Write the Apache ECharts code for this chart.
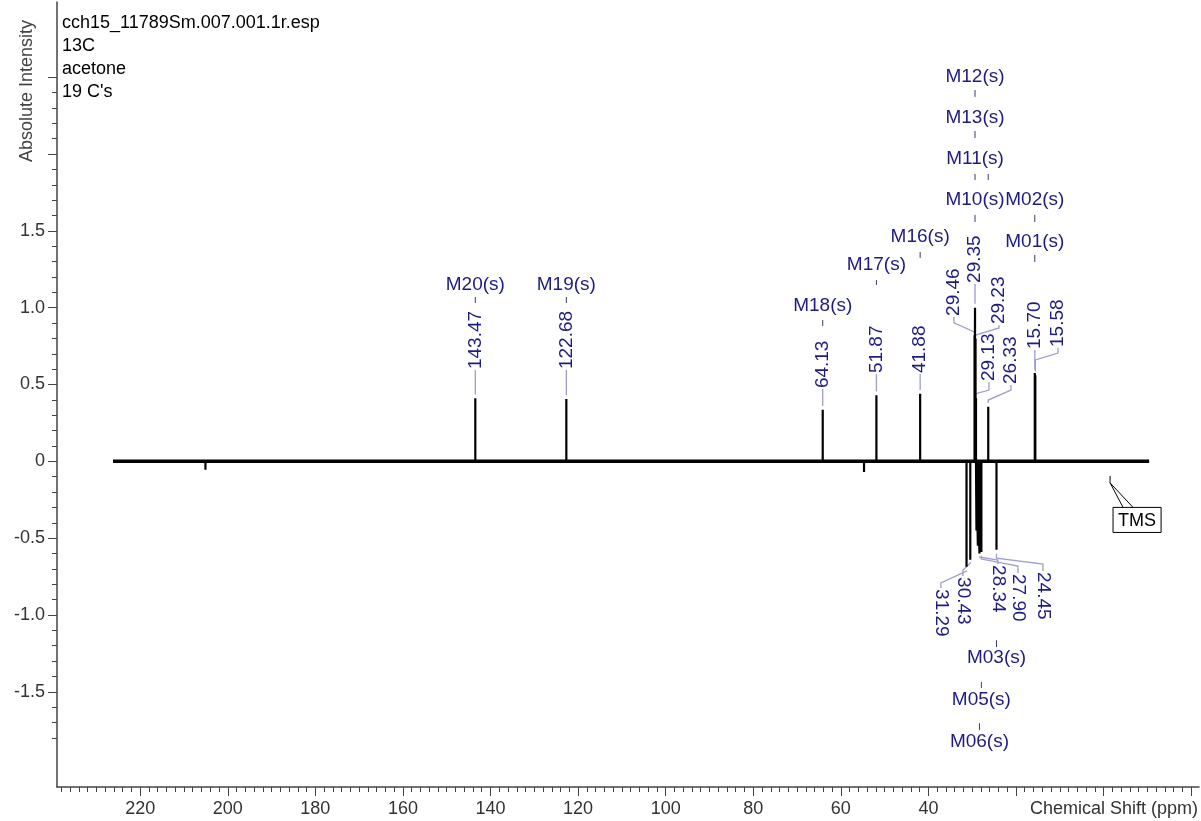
<!DOCTYPE html>
<html>
<head>
<meta charset="utf-8">
<title>13C spectrum</title>
<script src="https://cdn.jsdelivr.net/npm/echarts@6/dist/echarts.min.js"></script>
<style>
  html, body { margin: 0; padding: 0; background: #fff; }
  #spectrum { width: 1201px; height: 821px; }
</style>
</head>
<body>
<div id="spectrum"></div>
<script>
// 谱图信息
var fileInfo = ['cch15_11789Sm.007.001.1r.esp', '13C', 'acetone', "19 C's"];

// 基线范围 (ppm)
var baselineRange = [226.2, -10.4];

// 峰位 (ppm) 与强度, 按 ppm 从大到小
var peakShift  = [205.1, 143.47, 122.68, 64.13, 54.7, 51.87, 41.88, 31.29, 30.43, 29.46, 29.35, 29.23, 29.13, 29.02, 28.70, 28.34, 28.10, 27.90, 26.33, 24.45, 15.70, 15.58];
var peakHeight = [-0.055, 0.41, 0.405, 0.335, -0.07, 0.43, 0.44, -0.686, -0.64, 0.82, 1.0, 0.80, 0.41, -0.45, -0.55, -0.60, -0.50, -0.59, 0.355, -0.576, 0.575, 0.56];

// 标注的峰
var labelShift = [143.47, 122.68, 64.13, 51.87, 41.88, 29.46, 29.35, 29.23, 29.13, 26.33, 15.70, 15.58,
                  31.29, 30.43, 28.34, 27.90, 24.45];

// 多重峰名称
var multipletName  = ['M20(s)', 'M19(s)', 'M18(s)', 'M17(s)', 'M16(s)', 'M12(s)', 'M13(s)', 'M11(s)', 'M10(s)', 'M02(s)', 'M01(s)', 'M03(s)', 'M05(s)', 'M06(s)'];
var multipletShift = [143.47, 122.68, 64.13, 51.87, 41.88, 29.35, 29.35, 29.35, 29.35, 15.70, 15.70, 24.45, 27.90, 28.34];
var multipletTicks = [[143.47], [122.68], [64.13], [51.87], [41.88], [29.35], [29.35], [29.35, 26.33], [29.35], [15.70], [15.70], [24.45], [27.90], [28.34]];

// 坐标轴刻度
var xMajorTicks = [220, 200, 180, 160, 140, 120, 100, 80, 60, 40, 20, 0, -20];
var xTickLabels = [220, 200, 180, 160, 140, 120, 100, 80, 60, 40];
var yMajorTicks = [-1.5, -1.0, -0.5, 0, 0.5, 1.0, 1.5, 2.0, 2.5];
var yTickLabels = [-1.5, -1.0, -0.5, 0, 0.5, 1.0, 1.5];

// ---- 标注排版 (ppm / 强度坐标) ----
// 峰标注: [文字位置ppm, 近端折点, 远端折点, 文字起点]
var labelLayout = [
  [143.47, 0.594, 0.594, 0.594],
  [122.68, 0.594, 0.594, 0.594],
  [64.13, 0.47, 0.47, 0.47],
  [51.87, 0.568, 0.568, 0.568],
  [41.88, 0.568, 0.568, 0.568],
  [34.17, 0.842, 0.901, 0.94],
  [29.35, 1.155, 1.155, 1.155],
  [23.89, 0.822, 0.868, 0.887],
  [26.17, 0.44, 0.464, 0.516],
  [21.14, 0.399, 0.464, 0.497],
  [15.70, 0.725, 0.725, 0.725],
  [10.40, 0.66, 0.705, 0.738],
  [37.14, -0.714, -0.792, -0.825],
  [32.11, -0.662, -0.708, -0.747],
  [24.11, -0.623, -0.643, -0.669],
  [19.54, -0.636, -0.682, -0.727],
  [13.83, -0.63, -0.669, -0.714]
];
// 多重峰: [文字中心, 短线上端, 短线下端]
var multipletLayout = [
  [1.148, 1.070, 1.031], [1.148, 1.070, 1.031], [1.011, 0.920, 0.881],
  [1.278, 1.180, 1.148], [1.461, 1.363, 1.324], [2.502, 2.417, 2.372],
  [2.235, 2.150, 2.105], [1.968, 1.871, 1.831], [1.701, 1.604, 1.558],
  [1.701, 1.604, 1.558], [1.428, 1.343, 1.298], [-1.281, -1.164, -1.209],
  [-1.554, -1.437, -1.476], [-1.828, -1.704, -1.750]
];
// TMS 标注
var tmsLayout = { shift: -1.49, top: -0.095, knee: -0.14, box: [-2.17, -0.30, -13.14, -0.463], legs: [-4.46, -6.74] };

var labelColor = '#1c1c84';
var leaderColor = '#9c9cd2';
var fontFamily = '"Liberation Sans", Arial, sans-serif';

function heightOf(s) {
  return peakHeight[peakShift.indexOf(s)];
}

// 线谱数据
function buildSpectrum() {
  var pts = [[baselineRange[0], 0]];
  for (var i = 0; i < peakShift.length; i++) {
    pts.push([peakShift[i], 0], [peakShift[i], peakHeight[i]], [peakShift[i], 0]);
  }
  pts.push([baselineRange[1], 0]);
  return pts;
}

function renderPeakLabel(params, api) {
  var i = params.dataIndex;
  var s = labelShift[i];
  var tip = heightOf(s);
  var lay = labelLayout[i];
  var up = tip > 0;
  var pts = [
    api.coord([s, tip + (up ? 0.025 : -0.025)]),
    api.coord([s, lay[1]]),
    api.coord([lay[0], lay[2]]),
    api.coord([lay[0], lay[3]])
  ];
  var end = pts[3];
  return {
    type: 'group',
    children: [{
      type: 'polyline',
      shape: { points: pts },
      style: { stroke: leaderColor, lineWidth: 1.3, fill: 'none' }
    }, {
      type: 'text',
      x: end[0],
      y: end[1] + (up ? -1 : 1),
      rotation: up ? Math.PI / 2 : -Math.PI / 2,
      style: {
        text: s.toFixed(2), fill: labelColor, fontSize: 19, fontFamily: fontFamily,
        align: 'left', verticalAlign: 'middle'
      }
    }]
  };
}

function renderMultiplet(params, api) {
  var i = params.dataIndex;
  var lay = multipletLayout[i];
  var children = [];
  multipletTicks[i].forEach(function (s) {
    var a = api.coord([s, lay[1]]);
    var b = api.coord([s, lay[2]]);
    children.push({
      type: 'line',
      shape: { x1: a[0], y1: a[1], x2: b[0], y2: b[1] },
      style: { stroke: '#3a3a70', lineWidth: 1 }
    });
  });
  var c = api.coord([multipletShift[i], lay[0]]);
  children.push({
    type: 'text', x: c[0], y: c[1],
    style: {
      text: multipletName[i], fill: labelColor, fontSize: 19, fontFamily: fontFamily,
      align: 'center', verticalAlign: 'middle'
    }
  });
  return { type: 'group', children: children };
}

function renderTms(params, api) {
  var t = tmsLayout;
  var p0 = api.coord([t.shift, t.top]);
  var p1 = api.coord([t.shift, t.knee]);
  var b0 = api.coord([t.box[0], t.box[1]]);
  var b1 = api.coord([t.box[2], t.box[3]]);
  var l0 = api.coord([t.legs[0], t.box[1]]);
  var l1 = api.coord([t.legs[1], t.box[1]]);
  return {
    type: 'group',
    children: [
      { type: 'polyline', shape: { points: [p0, p1, l0] }, style: { stroke: '#000', lineWidth: 1, fill: 'none' } },
      { type: 'line', shape: { x1: p1[0], y1: p1[1], x2: l1[0], y2: l1[1] }, style: { stroke: '#000', lineWidth: 1 } },
      { type: 'rect', shape: { x: b0[0], y: b0[1], width: b1[0] - b0[0], height: b1[1] - b0[1] }, style: { stroke: '#000', lineWidth: 1, fill: '#fff' } },
      {
        type: 'text', x: (b0[0] + b1[0]) / 2, y: (b0[1] + b1[1]) / 2 + 1,
        style: { text: 'TMS', fill: '#000', fontSize: 18, fontFamily: fontFamily, align: 'center', verticalAlign: 'middle' }
      }
    ]
  };
}

var axisColor = '#444';
var tickText = { color: '#333', fontSize: 18, fontFamily: fontFamily };

var chart = echarts.init(document.getElementById('spectrum'));
var option = {
  animation: false,
  backgroundColor: '#fff',
  title: {
    text: fileInfo.join('\n'),
    left: 57,
    top: 7,
    textStyle: { color: '#000', fontSize: 18, fontWeight: 'normal', fontFamily: fontFamily, lineHeight: 23 }
  },
  grid: { left: 57, right: 2, top: 2, bottom: 34 },
  xAxis: [{
    type: 'value', inverse: true, min: -21.8, max: 239, position: 'bottom',
    axisLine: { onZero: false, lineStyle: { color: axisColor, width: 1.5 } },
    axisTick: { customValues: xMajorTicks, length: 9, lineStyle: { color: axisColor } },
    axisLabel: Object.assign({ customValues: xTickLabels, margin: 13 }, tickText),
    splitLine: { show: false }
  }, {
    type: 'value', inverse: true, min: -21.8, max: 239, position: 'bottom',
    axisLine: { show: false, onZero: false },
    axisTick: { customValues: (function () { var v = []; for (var k = 238; k >= -20; k -= 2) v.push(k); return v; })(), length: 5, lineStyle: { color: axisColor } },
    axisLabel: { show: false },
    splitLine: { show: false }
  }],
  yAxis: [{
    type: 'value', min: -2.12, max: 2.99, position: 'left',
    axisLine: { show: true, onZero: false, lineStyle: { color: axisColor, width: 1.5 } },
    axisTick: { show: true, customValues: yMajorTicks, length: 9, lineStyle: { color: axisColor } },
    axisLabel: Object.assign({
      customValues: yTickLabels, margin: 12,
      formatter: function (v) { return v === 0 ? '0' : v.toFixed(1); }
    }, tickText),
    splitLine: { show: false }
  }, {
    type: 'value', min: -2.12, max: 2.99, position: 'left',
    axisLine: { show: false, onZero: false },
    axisTick: {
      show: true,
      customValues: (function () { var v = []; for (var k = -18; k <= 25; k++) v.push(k / 10); return v; })(),
      length: 5, lineStyle: { color: axisColor }
    },
    axisLabel: { show: false },
    splitLine: { show: false }
  }],
  graphic: [{
    type: 'text', x: 27, y: 162, rotation: Math.PI / 2,
    style: { text: 'Absolute Intensity', fill: '#444', fontSize: 18, fontFamily: fontFamily, align: 'left', verticalAlign: 'middle' }
  }, {
    type: 'text', right: 3, top: 800,
    style: { text: 'Chemical Shift (ppm)', fill: '#333', fontSize: 18, fontFamily: fontFamily }
  }],
  series: [{
    name: 'baseline', type: 'line', symbol: 'none', silent: true,
    data: [[baselineRange[0], 0], [baselineRange[1], 0]],
    lineStyle: { color: '#000', width: 3.5 }
  }, {
    name: 'spectrum', type: 'line', symbol: 'none', silent: true, sampling: null,
    data: buildSpectrum(),
    lineStyle: { color: '#000', width: 2.2 }
  }, {
    name: 'peakLabels', type: 'custom', silent: true,
    data: labelShift.map(function (s) { return [s, heightOf(s)]; }),
    renderItem: renderPeakLabel
  }, {
    name: 'multiplets', type: 'custom', silent: true,
    data: multipletShift.map(function (s, i) { return [s, multipletLayout[i][0]]; }),
    renderItem: renderMultiplet
  }, {
    name: 'tms', type: 'custom', silent: true,
    data: [[tmsLayout.shift, tmsLayout.top]],
    renderItem: renderTms
  }]
};
chart.setOption(option);
</script>
</body>
</html>
